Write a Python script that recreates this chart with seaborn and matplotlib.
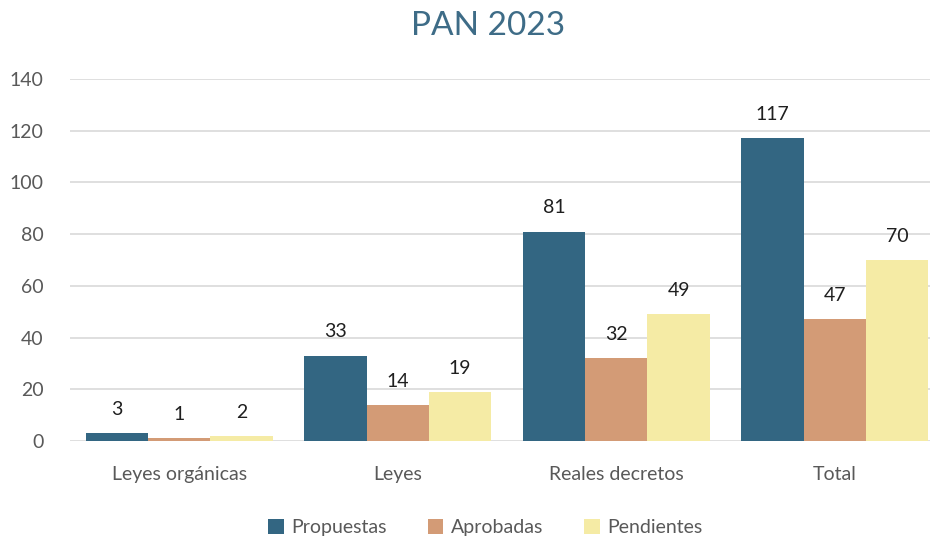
import matplotlib.pyplot as plt
import pandas as pd
import seaborn as sns

# Data
categorias = ['Leyes orgánicas', 'Leyes', 'Reales decretos', 'Total']
propuestas = [3, 33, 81, 117]
aprobadas = [1, 14, 32, 47]
pendientes = [2, 19, 49, 70]
series = ['Propuestas', 'Aprobadas', 'Pendientes']
colores = ['#336682', '#D39B76', '#F5EBA5']

df = pd.DataFrame({'categoria': categorias * 3,
                   'serie': [s for s in series for _ in categorias],
                   'valor': propuestas + aprobadas + pendientes})

sns.set_style('white')
plt.rcParams['font.family'] = ['Lato', 'DejaVu Sans']

fig = plt.figure(figsize=(9.33, 5.44), dpi=100)
ax = fig.add_axes([70 / 933, 103 / 544, 860 / 933, 362 / 544])

sns.barplot(data=df, x='categoria', y='valor', hue='serie', order=categorias,
            hue_order=series, palette=colores, width=0.856, saturation=1,
            linewidth=0, ax=ax)

for cont in ax.containers:
    ax.bar_label(cont, padding=11, fontsize=14, color='#1F1F1F')

ax.set_ylim(0, 140)
ax.set_yticks(range(0, 141, 20))
ax.set_xlim(-0.5, 3.436)
ax.grid(axis='y', color='#D9D9D9', linewidth=1.2)
ax.set_axisbelow(True)
for s in ax.spines.values():
    s.set_visible(False)
ax.tick_params(axis='both', length=0, labelsize=14, labelcolor='#595959')
ax.tick_params(axis='x', pad=18)
ax.tick_params(axis='y', pad=19)
ax.set_xlabel('')
ax.set_ylabel('')

ax.legend(loc='center', bbox_to_anchor=(0.483, -0.24), ncol=3, frameon=False,
          fontsize=14, labelcolor='#595959', handlelength=0.8,
          handleheight=0.8, columnspacing=2.1, handletextpad=0.4)

fig.text(0.523, 0.952, 'PAN 2023', ha='center', va='center', fontsize=24,
         color='#3E6C87')

fig.savefig('out.png', dpi=100)
